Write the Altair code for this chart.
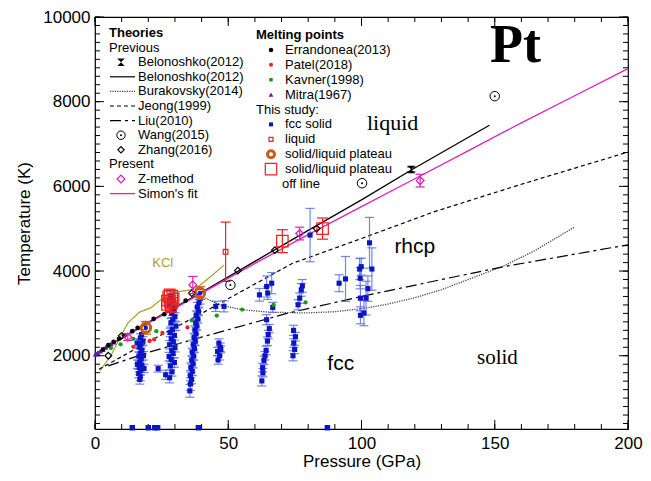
import altair as alt
import pandas as pd

# ---------------- data ----------------
bel_line_P = [0, 10, 20, 40, 60, 80, 100, 119, 148]
bel_line_T = [2041, 2420, 2790, 3500, 4230, 4960, 5680, 6400, 7443]

simon_P = [0, 20, 40, 60, 80, 100, 120, 140, 160, 180, 200]
simon_T = [2041, 2770, 3480, 4180, 4860, 5520, 6180, 6840, 7500, 8140, 8780]

jeong_P = [1.5, 20, 40, 74, 100, 127, 160, 200]
jeong_T = [1680, 2330, 3000, 4180, 4770, 5395, 6050, 6810]

liu_P = [5, 20, 40, 72, 100, 127, 153, 200]
liu_T = [1760, 2080, 2440, 3000, 3400, 3760, 4100, 4620]

bur_P = [38, 40, 47, 55, 65, 79, 90, 100, 110, 120, 130, 140, 153, 165, 180]
bur_T = [3440, 3400, 3200, 3090, 3030, 3010, 3040, 3110, 3220, 3370, 3560, 3800, 4110, 4480, 5043]

kcl_P = [1.9, 6.2, 9.3, 12.3, 16.7, 20.9, 24.7, 28.4, 33.3, 37, 39.5, 44, 48.4]
kcl_T = [1640, 2030, 2420, 2770, 3030, 3130, 3320, 3480, 3530, 3560, 3670, 3900, 4140]

bel_pt_P = [118.7]
bel_pt_T = [6400]
bel_pt_E = [60]

wang_P = [50.8, 100.2, 150]
wang_T = [3673, 6075, 8130]

zhang_P = [5, 10, 36.3, 53.6, 67.5, 83.2]
zhang_T = [2000, 2470, 3478, 4011, 4494, 5003]

zmeth_P = [12.3, 36.7, 76.8, 122]
zmeth_T = [2440, 3673, 4886, 6136]
zmeth_E = [80, 200, 150, 150]

err_P = [3, 5, 7, 9, 11, 14, 16, 19, 22, 26, 30, 34]
err_T = [2150, 2250, 2330, 2400, 2480, 2580, 2660, 2770, 2870, 2980, 3150, 3300]

patel_P = [14.4, 20.5, 22.2, 25.3, 34.7]
patel_T = [2210, 2350, 2385, 2540, 2670]

kavner_P = [6, 9.6, 14.4, 23, 36.3, 45.7, 55.2, 67, 79]
kavner_T = [2180, 2270, 2400, 2580, 2835, 2950, 3090, 3200, 3260]

mitra_P = [0.2, 1, 2, 3, 4, 5, 6, 7]
mitra_T = [2041, 2070, 2110, 2150, 2195, 2240, 2280, 2320]

blue_P = [17.5, 17.0, 18.0, 17.2, 16.8, 17.6, 17.0, 16.5, 17.3, 16.8, 17.5, 16.6, 17.1, 16.4, 17.0, 16.8, 18.2, 15.9, 18.4, 15.8,
          28.5, 29.0, 28.0, 29.5, 28.8, 30.0, 29.2, 28.5, 30.4, 29.0, 28.2, 29.8, 28.6, 29.4, 28.0, 30.0, 28.8, 29.3, 27.8, 28.6, 29.8, 28.3, 23.7, 28.9, 26.5, 28.0,
          39.5, 39.0, 38.4, 38.8, 38.0, 38.6, 37.8, 38.2, 37.5, 37.9, 37.2, 37.6, 36.9, 37.3, 36.5, 37.0, 36.3, 36.8, 36.0, 36.5, 35.8, 36.2, 35.8, 35.6,
          45.3, 48.4, 46.5, 47.0, 46.0, 46.8, 46.2, 47.2,
          64.4, 66.3, 61.7, 64.8, 66.7, 64.4, 65.4, 64.7, 64.2, 63.4, 62.9, 62.6, 65.0, 63.8, 63.0,
          77.4, 76.8, 76.2, 77.8, 74.5, 75.2, 74.6, 74.9, 74.3,
          80.7, 91.6, 94.0,
          103.0, 99.3, 99.9, 99.5, 103.9, 102.4, 99.6, 101.7, 99.6, 100.9]
blue_T = [2500, 2420, 2350, 2280, 2200, 2130, 2060, 1990, 1920, 1850, 1780, 1720, 1650, 1580, 1510, 1440, 2000, 1800, 1700, 2300,
          3400, 3300, 3200, 3100, 3000, 2920, 2850, 2780, 2700, 2620, 2550, 2480, 2400, 2330, 2260, 2190, 2120, 2050, 1980, 1910, 1840, 1760, 1695, 1620, 1550, 1480,
          3350, 3250, 3150, 3050, 2960, 2870, 2780, 2700, 2610, 2520, 2430, 2340, 2260, 2170, 2080, 1990, 1900, 1810, 1720, 1630, 1530, 1440, 1330, 1170,
          3166, 3166, 2300, 2200, 2100, 2000, 1900, 2150,
          3635, 3713, 3439, 3480, 3142, 2851, 2640, 2345, 2126, 1890, 1719, 1406, 2500, 2000, 1600,
          3556, 3360, 3204, 3650, 2600, 2450, 2300, 2150, 2000,
          4850, 3713, 3814,
          4667, 4048, 4104, 3830, 4048, 3586, 3361, 3361, 2955, 3009]
blue_E = [120, 100, 100, 100, 120, 100, 100, 100, 110, 100, 100, 100, 110, 100, 100, 110, 100, 100, 100, 100,
          150, 120, 120, 120, 100, 100, 100, 100, 100, 100, 100, 110, 100, 100, 100, 100, 100, 100, 100, 100, 110, 100, 80, 100, 110, 120,
          130, 120, 110, 100, 100, 100, 100, 100, 100, 100, 100, 100, 110, 100, 100, 100, 100, 100, 110, 100, 120, 100, 150, 150,
          120, 130, 100, 100, 100, 100, 100, 80,
          250, 250, 150, 150, 120, 120, 100, 100, 100, 100, 100, 120, 100, 100, 100,
          150, 120, 120, 150, 120, 100, 100, 100, 120,
          630, 200, 530,
          600, 250, 200, 250, 500, 300, 300, 400, 200, 300]

bottom_P = [14, 20, 22.4, 23.5, 38.8, 87.2]
bottom_T = [300, 300, 300, 300, 300, 300]

redclu_P = [27, 28, 29, 27.5, 28.5, 29.5, 28, 27, 29, 28.2]
redclu_T = [3200, 3300, 3250, 3400, 3150, 3350, 3450, 3300, 3420, 3250]

offline_P = [70.3, 85.4]
offline_T = [4706, 5003]
offline_E = [270, 250]

liquid_P = [49]
liquid_T = [4456]
liquid_E = [700]

plateau_P = [19.1, 39.4]
plateau_T = [2660, 3480]
plateau_E = [150, 150]

x_major = [0, 50, 100, 150, 200]
x_minor = list(range(0, 201, 10))
y_major = [2000, 4000, 6000, 8000, 10000]
y_minor = list(range(400, 10001, 200))

ann_text = ["Pt", "liquid", "rhcp", "fcc", "solid", "KCl"]
ann_P = [157.8, 111.7, 120, 92.2, 151, 25.4]
ann_T = [9320, 7490, 4580, 1810, 1950, 4200]

leg1_labels = ["Theories", "Previous", "Belonoshko(2012)", "Belonoshko(2012)", "Burakovsky(2014)",
               "Jeong(1999)", "Liu(2010)", "Wang(2015)", "Zhang(2016)", "Present", "Z-method", "Simon's fit"]
leg2_labels = ["Melting points", "Errandonea(2013)", "Patel(2018)", "Kavner(1998)", "Mitra(1967)",
               "This study:", "fcc solid", "liquid", "solid/liquid plateau", "solid/liquid plateau", "off line"]

# ---------------- layout / style ----------------
W, H = 533, 412
SANS = "Liberation Sans"
SERIF = "Liberation Serif"
BLUE = "#0a14c8"
BLUEBAR = "#5f6ee0"
RED = "#ee2020"
ORANGE = "#cc5a14"
MAG = "#dd22bb"
GREEN = "#159a15"
PURPLE = "#5a22a0"
OLIVE = "#a8a228"

xs = alt.Scale(domain=[0, 200], nice=False, zero=False)
ys = alt.Scale(domain=[270, 10000], nice=False, zero=False)
x_axis = alt.Axis(values=x_major, format="d", title="Pressure (GPa)", ticks=False, tickSize=0, domain=False,
                  grid=False, labelPadding=6, titlePadding=2, labelFlush=False)
y_axis = alt.Axis(values=y_major, format="d", title="Temperature (K)", ticks=False, tickSize=0, domain=False,
                  grid=False, labelPadding=5, titlePadding=9, labelFlush=False)


def X(f="P"):
    return alt.X(f"{f}:Q", scale=xs, axis=x_axis, title="Pressure (GPa)")


def Y(f="T"):
    return alt.Y(f"{f}:Q", scale=ys, axis=y_axis, title="Temperature (K)")


def df(P, T, E=None):
    d = pd.DataFrame({"P": P, "T": T})
    if E is not None:
        d["lo"] = [t - e for t, e in zip(T, E)]
        d["hi"] = [t + e for t, e in zip(T, E)]
    return d


def errbars(d, color, capsize=9, opacity=1.0, width=1.2):
    bar = alt.Chart(d).mark_rule(color=color, strokeWidth=width, opacity=opacity).encode(
        x=X(), y=Y("lo"), y2="hi")
    caps = []
    for f in ["lo", "hi"]:
        caps.append(alt.Chart(d).mark_tick(color=color, orient="horizontal", size=capsize,
                                           thickness=width, opacity=opacity).encode(x=X(), y=Y(f)))
    return [bar] + caps


def line(P, T, color="black", dash=None, width=1.2):
    kw = dict(color=color, strokeWidth=width)
    if dash:
        kw["strokeDash"] = dash
    return alt.Chart(df(P, T)).mark_line(**kw).encode(x=X(), y=Y(), order="P:Q")


layers = []

# inward ticks
xmin_d = pd.DataFrame({"P": x_minor})
xmaj_d = pd.DataFrame({"P": x_major})
ymin_d = pd.DataFrame({"T": y_minor})
ymaj_d = pd.DataFrame({"T": y_major})
for d, L in [(xmin_d, 5), (xmaj_d, 9)]:
    layers.append(alt.Chart(d).mark_rule(color="black", strokeWidth=1).encode(
        x=X(), y=alt.value(H), y2=alt.value(H - L)))
    layers.append(alt.Chart(d).mark_rule(color="black", strokeWidth=1).encode(
        x=X(), y=alt.value(0), y2=alt.value(L)))
for d, L in [(ymin_d, 5), (ymaj_d, 9)]:
    layers.append(alt.Chart(d).mark_rule(color="black", strokeWidth=1).encode(
        y=Y(), x=alt.value(0), x2=alt.value(L)))
    layers.append(alt.Chart(d).mark_rule(color="black", strokeWidth=1).encode(
        y=Y(), x=alt.value(W), x2=alt.value(W - L)))

# theory lines
layers.append(line(kcl_P, kcl_T, color=OLIVE, width=1.2))
layers.append(line(bur_P, bur_T, color="#444444", dash=[1.2, 1.2], width=1.3))
layers.append(line(liu_P, liu_T, dash=[11, 4, 3, 4], width=1.2))
layers.append(line(jeong_P, jeong_T, dash=[4, 3], width=1.2))
layers.append(line(bel_line_P, bel_line_T, width=1.3))
layers.append(line(simon_P, simon_T, color=MAG, width=1.3))

# blue fcc solid points with error bars
bd = df(blue_P, blue_T, blue_E)
layers += errbars(bd, BLUEBAR, capsize=9, opacity=0.85)
layers.append(alt.Chart(bd).mark_point(shape="square", filled=True, size=26, color=BLUE, opacity=1).encode(x=X(), y=Y()))
layers.append(alt.Chart(df(bottom_P, bottom_T)).mark_point(shape="square", filled=True, size=30, color=BLUE,
                                                            opacity=1, clip=False).encode(x=X(), y=Y()))

# literature melting points
layers.append(alt.Chart(df(mitra_P, mitra_T)).mark_point(shape="triangle-up", filled=True, size=30, color=PURPLE,
                                                          opacity=1).encode(x=X(), y=Y()))
layers.append(alt.Chart(df(kavner_P, kavner_T)).mark_point(shape="circle", filled=True, size=18, color=GREEN,
                                                           opacity=1).encode(x=X(), y=Y()))
layers.append(alt.Chart(df(patel_P, patel_T)).mark_point(shape="circle", filled=True, size=18, color=RED,
                                                          opacity=1).encode(x=X(), y=Y()))
layers.append(alt.Chart(df(err_P, err_T)).mark_point(shape="circle", filled=True, size=22, color="black",
                                                      opacity=1).encode(x=X(), y=Y()))

# red cluster / liquid / off line
layers += errbars(df([28.2], [3300], [250]), RED, capsize=11)
layers.append(alt.Chart(df(redclu_P, redclu_T)).mark_point(shape="square", filled=False, size=110, color=RED,
                                                            strokeWidth=1.3, opacity=1).encode(x=X(), y=Y()))
od = df(offline_P, offline_T, offline_E)
layers += errbars(od, RED, capsize=11)
layers.append(alt.Chart(od).mark_point(shape="square", filled=False, size=130, color=RED, strokeWidth=1.2,
                                       opacity=1).encode(x=X(), y=Y()))
ld = df(liquid_P, liquid_T, liquid_E)
layers += errbars(ld, RED, capsize=10)
layers.append(alt.Chart(ld).mark_point(shape="square", filled=False, size=22, color=RED, strokeWidth=1.2,
                                       opacity=1).encode(x=X(), y=Y()))

# orange plateau circles
pd_ = df(plateau_P, plateau_T, plateau_E)
layers += errbars(pd_, ORANGE, capsize=10)
layers.append(alt.Chart(pd_).mark_point(shape="circle", filled=False, size=90, color=ORANGE, strokeWidth=3,
                                        opacity=1).encode(x=X(), y=Y()))
layers.append(alt.Chart(pd_).mark_point(shape="square", filled=True, size=14, color=BLUE,
                                        opacity=1).encode(x=X(), y=Y()))

# theories markers
layers.append(alt.Chart(df(wang_P, wang_T)).mark_point(shape="circle", filled=False, size=90, color="black",
                                                        strokeWidth=1, opacity=1).encode(x=X(), y=Y()))
layers.append(alt.Chart(df(wang_P, wang_T)).mark_point(shape="circle", filled=True, size=4, color="black",
                                                        opacity=1).encode(x=X(), y=Y()))
layers.append(alt.Chart(df(zhang_P, zhang_T)).mark_point(shape="diamond", filled=False, size=45, color="black",
                                                          strokeWidth=1.2, opacity=1).encode(x=X(), y=Y()))
zd = df(zmeth_P, zmeth_T, zmeth_E)
layers += errbars(zd, MAG, capsize=9)
layers.append(alt.Chart(zd).mark_point(shape="diamond", filled=False, size=60, color=MAG, strokeWidth=1.3,
                                       opacity=1).encode(x=X(), y=Y()))
bpd = df(bel_pt_P, bel_pt_T, bel_pt_E)
layers += errbars(bpd, "black", capsize=8)
layers.append(alt.Chart(bpd).mark_point(shape="M-1,-1L1,-1L-1,1L1,1Z", filled=True, size=55, color="black",
                                        opacity=1).encode(x=X(), y=Y()))

# annotations
ann = pd.DataFrame({"P": ann_P, "T": ann_T, "txt": ann_text})
styles = {
    "Pt": dict(font=SERIF, fontSize=54, fontWeight="bold", color="black"),
    "liquid": dict(font=SERIF, fontSize=22, color="black"),
    "rhcp": dict(font=SANS, fontSize=21, color="black"),
    "fcc": dict(font=SANS, fontSize=21, color="black"),
    "solid": dict(font=SERIF, fontSize=21, color="black"),
    "KCl": dict(font=SANS, fontSize=13, color=OLIVE),
}
for t in ann_text:
    layers.append(alt.Chart(ann[ann.txt == t]).mark_text(baseline="middle", align="center", **styles[t]).encode(
        x=X(), y=Y(), text="txt:N"))

# ---------------- legends (pixel layout) ----------------
ONE = pd.DataFrame({"a": [0]})


def ltext(px, py, label, bold=False):
    return alt.Chart(ONE).mark_text(align="left", baseline="middle", font=SANS, fontSize=13,
                                    fontWeight="bold" if bold else "normal", color="black").encode(
        x=alt.value(px), y=alt.value(py), text=alt.value(label))


def leg_line(row_y, color="black", dash=None, width=1.2, x1=15, x2=40):
    kw = dict(color=color, strokeWidth=width)
    if dash:
        kw["strokeDash"] = dash
    return alt.Chart(ONE).mark_rule(**kw).encode(x=alt.value(x1), x2=alt.value(x2), y=alt.value(row_y))


def leg_pt(px, row_y, **kw):
    return alt.Chart(ONE).mark_point(opacity=1, **kw).encode(x=alt.value(px), y=alt.value(row_y))


STEP1, Y1, TX1, MX1 = 14.6, 16, 43, 26
r1 = [Y1 + STEP1 * i for i in range(len(leg1_labels))]
for i, lab in enumerate(leg1_labels):
    px = 14 if lab in ("Theories", "Previous", "Present") else TX1
    layers.append(ltext(px, r1[i], lab, bold=(lab == "Theories")))
layers.append(leg_pt(MX1, r1[2], shape="M-1,-1L1,-1L-1,1L1,1Z", filled=True, size=55, color="black"))
layers.append(leg_line(r1[3]))
layers.append(leg_line(r1[4], color="#444444", dash=[1.2, 1.2]))
layers.append(leg_line(r1[5], dash=[4, 3]))
layers.append(leg_line(r1[6], dash=[11, 4, 3, 4]))
layers.append(leg_pt(MX1, r1[7], shape="circle", filled=False, size=70, color="black", strokeWidth=1))
layers.append(leg_pt(MX1, r1[7], shape="circle", filled=True, size=4, color="black"))
layers.append(leg_pt(MX1, r1[8], shape="diamond", filled=False, size=40, color="black", strokeWidth=1.2))
layers.append(leg_pt(MX1, r1[10], shape="diamond", filled=False, size=60, color=MAG, strokeWidth=1.3))
layers.append(leg_line(r1[11], color=MAG, width=1.3))

STEP2, Y2, TX2, MX2, HX2 = 14.9, 18, 190, 176, 161
r2 = [Y2 + STEP2 * i for i in range(len(leg2_labels))]
for i, lab in enumerate(leg2_labels):
    if lab in ("Melting points", "This study:"):
        px = HX2
    elif lab == "off line":
        px = 187
    else:
        px = TX2
    layers.append(ltext(px, r2[i], lab, bold=(lab == "Melting points")))
layers.append(leg_pt(MX2, r2[1], shape="circle", filled=True, size=20, color="black"))
layers.append(leg_pt(MX2, r2[2], shape="circle", filled=True, size=16, color=RED))
layers.append(leg_pt(MX2, r2[3], shape="circle", filled=True, size=16, color=GREEN))
layers.append(leg_pt(MX2, r2[4], shape="triangle-up", filled=True, size=22, color=PURPLE))
layers.append(leg_pt(MX2, r2[6], shape="square", filled=True, size=16, color=BLUE))
layers.append(leg_pt(MX2, r2[7], shape="square", filled=False, size=16, color=RED, strokeWidth=1.2))
layers.append(leg_pt(MX2, r2[8], shape="circle", filled=False, size=50, color=ORANGE, strokeWidth=3))
layers.append(leg_pt(MX2, r2[9], shape="square", filled=False, size=130, color=RED, strokeWidth=1.2))

chart = alt.layer(*layers).properties(
    width=W, height=H,
    autosize=alt.AutoSizeParams(type="none"),
    padding={"left": 87, "top": 9, "right": 15, "bottom": 44},
).configure_view(stroke="black", strokeWidth=1.2).configure_axis(
    labelFont=SANS, titleFont=SANS, labelFontSize=17, titleFontSize=17, titleFontWeight="normal",
    labelColor="black", titleColor="black"
)

chart.save("out.html", embed_options={"renderer": "svg", "actions": False})
